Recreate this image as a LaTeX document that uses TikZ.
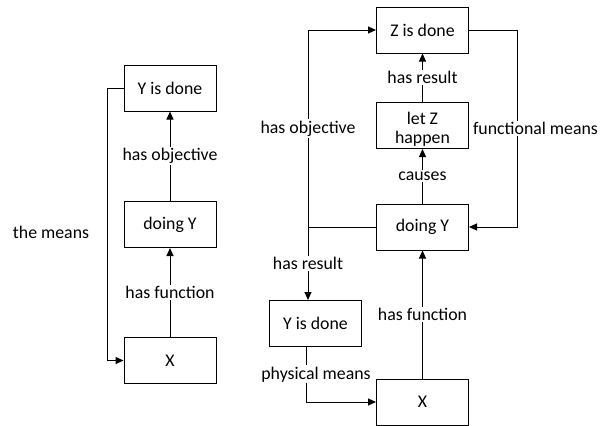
\documentclass[tikz,border=0pt]{standalone}
\usepackage{fontspec}
\setmainfont{Carlito}
\usetikzlibrary{arrows.meta}
\begin{document}
\begin{tikzpicture}[x=1pt,y=-1pt,
  box/.style={draw,line width=1pt,minimum width=92pt,minimum height=46pt,inner sep=0pt,font=\fontsize{17.8}{19.5}\selectfont,align=center},
  lbl/.style={fill=white,inner sep=1.5pt,font=\fontsize{17.8}{19.5}\selectfont},
  txt/.style={inner sep=0pt,font=\fontsize{17.8}{19}\selectfont,align=center},
  conn/.style={line width=1pt,-{Triangle[length=8pt,width=7pt]}}]
\useasboundingbox (0,0) rectangle (611,426);
% left diagram
\node[box] (Yd1) at (170,88) {Y is done};
\node[box] (dY1) at (170,224.5) {doing Y};
\node[box] (X1) at (170,360.5) {X};
\draw[conn] (dY1.north) -- node[lbl]{has objective} (Yd1.south);
\draw[conn] (X1.north) -- node[lbl]{has function} (dY1.south);
\draw[conn] (Yd1.west) -- ++(-16,0) |- (X1.west);
\node[txt] (means) at (51,232) {the means};
% right diagram
\node[box] (Z) at (422.5,30) {Z is done};
\node[box] (letZ) at (422.5,125.5) {};
\node[txt] (letZtxt) at (422.5,129) {let Z\\happen};
\node[box] (dY2) at (422.5,227) {doing Y};
\node[box] (Yd2) at (315.5,323.5) {Y is done};
\node[box] (X2) at (422.5,402) {X};
\draw[conn] (letZ.north) -- node[lbl]{has result} (Z.south);
\draw[conn] (dY2.north) -- node[lbl]{causes} (letZ.south);
\draw[conn] (X2.north) -- node[lbl]{has function} (dY2.south);
\coordinate (J) at (308,227);
\coordinate (F) at (517,30);
\coordinate (P1) at (306,346.5);
\coordinate (P2) at (306,402);
\draw[conn] (dY2.west) -- (J) -- node[lbl]{has objective} (J |- Z.west) -- (Z.west);
\draw[conn] (J) -- node[lbl]{has result} (J |- Yd2.north);
\draw[conn] (Z.east) -- (F) -- node[lbl,xshift=18.5pt]{functional means} (F |- dY2.east) -- (dY2.east);
\draw[conn] (P1) -- node[lbl,xshift=10pt]{physical means} (P2) -- (X2.west);
\end{tikzpicture}
\end{document}
